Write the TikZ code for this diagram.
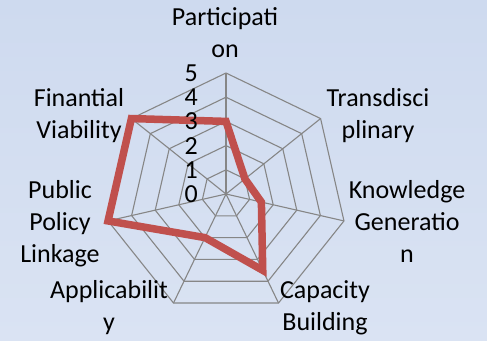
\documentclass[tikz,border=0pt]{standalone}
\usepackage{fontspec}
\setmainfont{Carlito}
\definecolor{bgA}{HTML}{CEDAEF}
\definecolor{bgB}{HTML}{DAE3F3}
\definecolor{gridgray}{HTML}{868686}
\definecolor{datared}{HTML}{C0504D}
\begin{document}
\begin{tikzpicture}[x=1pt,y=-1pt,
  lbl/.style={font=\fontsize{26}{32}\selectfont, align=center, anchor=base, inner sep=0pt},
  num/.style={font=\fontsize{26}{26}\selectfont, anchor=east, inner sep=0pt},
  gridline/.style={draw=gridgray, line width=1.1pt},
  dataline/.style={draw=datared, line width=7.5pt, line join=miter}]
\useasboundingbox (0,0) rectangle (487,340);
\shade[top color=bgA, bottom color=bgB] (0,0) rectangle (487,340);
\def\cx{226}\def\cy{194}\def\lev{24.2}
\coordinate (C) at (\cx,\cy);
% vertices of grid
\foreach \k in {0,...,6}{
  \foreach \l in {1,...,5}{
    \coordinate (g\k-\l) at ({\cx+\l*\lev*sin(\k*360/7)},{\cy-\l*\lev*cos(\k*360/7)});
  }
}
% rings
\foreach \l in {1,...,5}{
  \draw[gridline] (g0-\l) -- (g1-\l) -- (g2-\l) -- (g3-\l) -- (g4-\l) -- (g5-\l) -- (g6-\l) -- cycle;
}
% spokes
\foreach \k in {0,...,6}{
  \draw[gridline] (C) -- (g\k-5);
}
% data
\foreach \k/\v in {0/3,1/1,2/1.5,3/3.5,4/2,5/5,6/5}{
  \coordinate (d\k) at ({\cx+\v*\lev*sin(\k*360/7)},{\cy-\v*\lev*cos(\k*360/7)});
}
\draw[dataline] (d0) -- (d1) -- (d2) -- (d3) -- (d4) -- (d5) -- (d6) -- cycle;
% scale numbers
\foreach \l in {0,...,5}{
  \node[num] (n\l) at (198,{\cy-\l*\lev}) {\l};
}
% labels (anchor = baseline of last line)
\node[lbl] (lP) at (225,57) {Participati\\on};
\node[lbl] (lT) at (378,138) {Transdisci\\plinary};
\node[lbl] (lK) at (407,262) {Knowledge\\Generatio\\n};
\node[lbl] (lC) at (325,330) {Capacity\\Building};
\node[lbl] (lA) at (109,330) {Applicabilit\\y};
\node[lbl] (lPP) at (60,262) {Public\\Policy\\Linkage};
\node[lbl] (lF) at (79,138) {Finantial\\Viability};
\end{tikzpicture}
\end{document}
